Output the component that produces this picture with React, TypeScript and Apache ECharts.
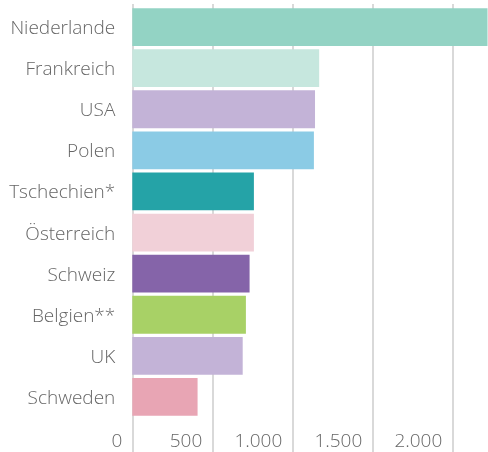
import React, { useEffect, useRef } from "react";
import * as echarts from "echarts";

const categories = [
  "Niederlande",
  "Frankreich",
  "USA",
  "Polen",
  "Tschechien*",
  "Österreich",
  "Schweiz",
  "Belgien**",
  "UK",
  "Schweden",
];
const values = [2220, 1168, 1142, 1135, 760, 760, 733, 710, 690, 408];
const colors = [
  "#93d3c4",
  "#c6e7de",
  "#c3b3d7",
  "#8bcbe5",
  "#25a3a7",
  "#f1d0d8",
  "#8564a9",
  "#a8d166",
  "#c3b3d7",
  "#e8a5b4",
];
const axisMax = 2285;
const tickInterval = 500;

const fmt = (v: number) =>
  v % tickInterval !== 0 ? "" : String(v).replace(/\B(?=(\d{3})+(?!\d))/g, ".");

export default function App() {
  const ref = useRef<HTMLDivElement>(null);
  useEffect(() => {
    if (!ref.current) return;
    const chart = echarts.init(ref.current, undefined, { renderer: "svg" });
    const font = "'Open Sans', sans-serif";
    chart.setOption({
      animation: false,
      grid: [
        { left: 132.3, right: -9.9, top: 6.5, bottom: 34.5, outerBoundsMode: "none", containLabel: false },
        { left: 132.3, right: -9.9, top: 4, bottom: 0, outerBoundsMode: "none", containLabel: false },
      ],
      xAxis: [
        {
          type: "value",
          gridIndex: 0,
          min: 0,
          max: axisMax,
          interval: tickInterval,
          show: false,
          splitLine: { show: false },
        },
        {
          type: "value",
          gridIndex: 1,
          min: 0,
          max: axisMax,
          interval: tickInterval,
          axisLine: { show: false },
          axisTick: { show: false },
          splitLine: { show: true, lineStyle: { color: "#cccccc", width: 1.5 } },
          axisLabel: {
            inside: true,
            margin: 3,
            align: "right",
            padding: [0, 10, 0, 0],
            color: "#666666",
            fontFamily: font,
            fontSize: 19,
            fontWeight: 300,
            formatter: fmt,
            showMaxLabel: false,
          },
        },
      ],
      yAxis: [
        {
          type: "category",
          gridIndex: 0,
          data: categories,
          inverse: true,
          axisLine: { show: false },
          axisTick: { show: false },
          axisLabel: {
            margin: 17,
            color: "#666666",
            fontFamily: font,
            fontSize: 19,
            fontWeight: 300,
          },
        },
        { type: "value", gridIndex: 1, show: false, splitLine: { show: false } },
      ],
      series: [
        {
          type: "bar",
          xAxisIndex: 0,
          yAxisIndex: 0,
          barCategoryGap: "8%",
          data: values.map((v, i) => ({ value: v, itemStyle: { color: colors[i] } })),
        },
      ],
    });
    return () => chart.dispose();
  }, []);
  return (
    <div
      ref={ref}
      style={{ position: "fixed", left: 0, top: 0, width: 488, height: 452 }}
    />
  );
}
